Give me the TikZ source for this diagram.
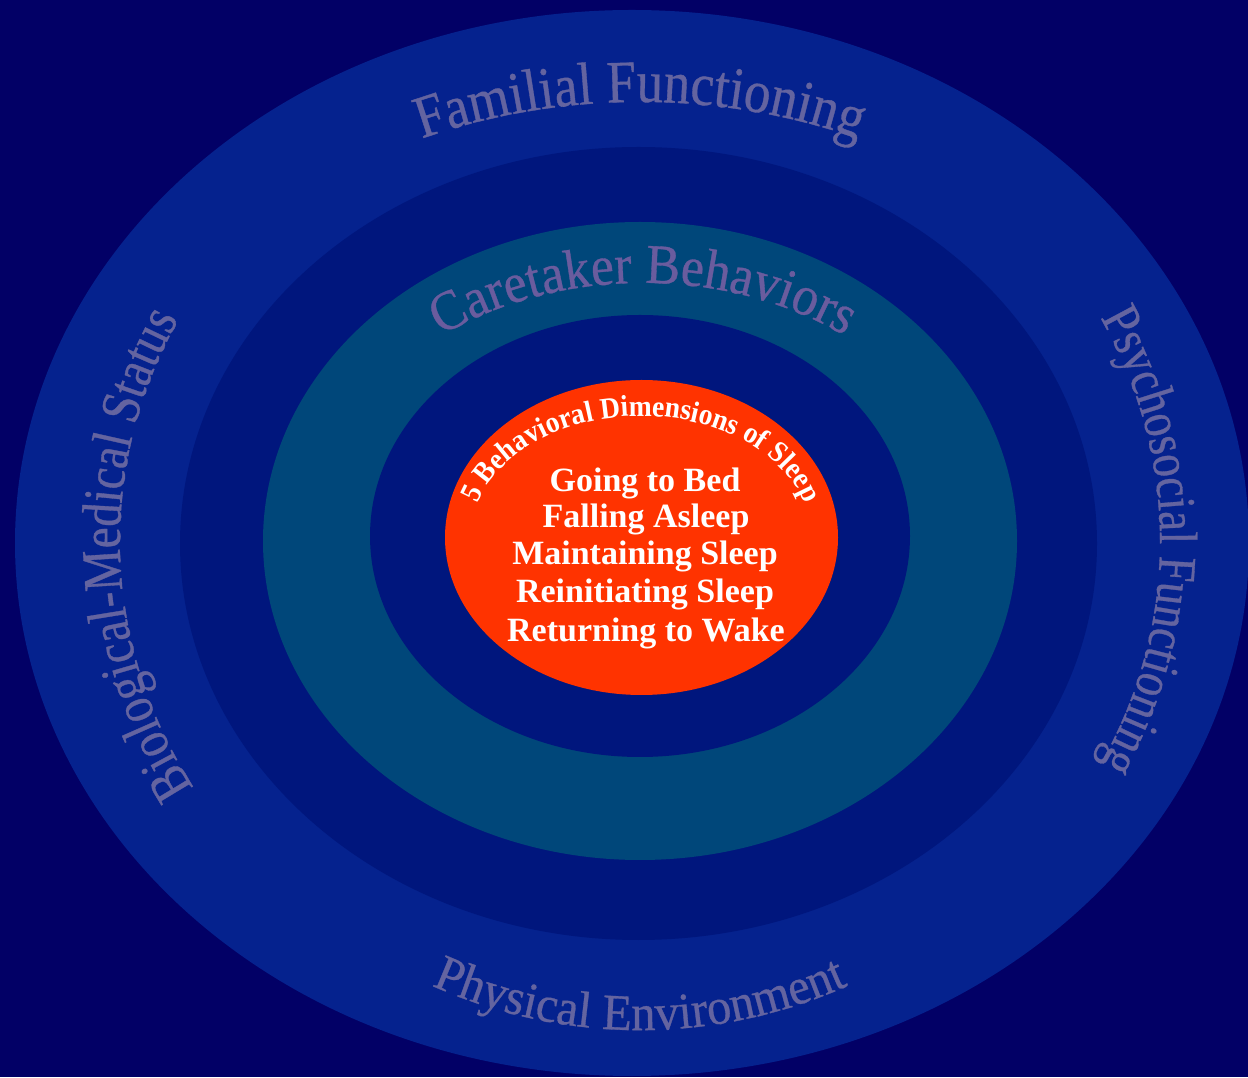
\documentclass[tikz,border=0pt]{standalone}
\usepackage{fontspec}
\setmainfont{Liberation Serif}
\newfontfamily\sidefont[FakeStretch=0.84,FakeBold=0.6]{Liberation Serif}
\newfontfamily\topfont[FakeStretch=0.88,FakeBold=0.6]{Liberation Serif}
\newfontfamily\careFont[FakeStretch=0.92,FakeBold=0.6]{Liberation Serif}
\newfontfamily\botfont[FakeStretch=0.95,FakeBold=0.6]{Liberation Serif}
\newfontfamily\coreFont[FakeStretch=0.92]{Liberation Serif}
\usetikzlibrary{decorations.text}
\definecolor{bgc}{HTML}{020066}
\definecolor{outerc}{HTML}{05228E}
\definecolor{navyc}{HTML}{00167D}
\definecolor{tealc}{HTML}{00477A}
\definecolor{redc}{HTML}{FF3300}
\definecolor{labc}{HTML}{6464A0}
\definecolor{carec}{HTML}{6A5C9E}
\begin{document}
\begin{tikzpicture}[x=1pt,y=1pt,
  centerline/.style={anchor=base, text=white, font=\bfseries\fontsize{34}{38}\selectfont, inner sep=0pt}]
\useasboundingbox (0,0) rectangle (1248,1077);
\fill[bgc] (0,0) rectangle (1248,1077);
\begin{scope}
\clip (0,0) rectangle (1248,1077);
\fill[outerc] (632,534) ellipse [x radius=617pt, y radius=533pt];
\end{scope}
\fill[navyc] (638.5,533.5) ellipse [x radius=458.5pt, y radius=396.5pt];
\fill[tealc] (640,536) ellipse [x radius=377pt, y radius=319pt];
\fill[navyc] (640,541) ellipse [x radius=270pt, y radius=221pt];
\fill[redc] (641.5,539.5) ellipse [x radius=196.5pt, y radius=157.5pt];

% outer ring labels
\path[decorate, decoration={text along path, text align=center, text color=labc,
  text={|\topfont\fontsize{60}{60}\selectfont|Familial Functioning}}]
  (640,536) ++(150:545pt and 439pt) arc[start angle=150, end angle=30, x radius=545pt, y radius=439pt];
\path[decorate, decoration={text along path, text align=center, text color=labc,
  text={|\botfont\fontsize{51}{51}\selectfont|Physical Environment}}]
  (640,536) ++(200:500pt and 489pt) arc[start angle=200, end angle=340, x radius=500pt, y radius=489pt];
\path[decorate, decoration={text along path, text align=center, text color=labc,
  text={|\sidefont\fontsize{56}{56}\selectfont|Biological-Medical Status}}]
  (640,536) ++(216.7:520pt and 480pt) arc[start angle=216.7, end angle=146.7, x radius=520pt, y radius=480pt];
\path[decorate, decoration={text along path, text align=center, text color=labc,
  text={|\sidefont\fontsize{54}{54}\selectfont|Psychosocial Functioning}}]
  (640,536) ++(35:520pt and 480pt) arc[start angle=35, end angle=-35, x radius=520pt, y radius=480pt];

% caretaker ring label
\path[decorate, decoration={text along path, text align=center, text color=carec,
  text={|\careFont\fontsize{56}{56}\selectfont|Caretaker Behaviors}}]
  (643,536) ++(165:333pt and 258pt) arc[start angle=165, end angle=15, x radius=333pt, y radius=258pt];

% core
\path[decorate, decoration={text along path, text align=center, text color=white,
  text={|\coreFont\bfseries\fontsize{30}{30}\selectfont|5 Behavioral Dimensions of Sleep}}]
  (641,540) ++(180:170pt and 121pt) arc[start angle=180, end angle=0, x radius=170pt, y radius=121pt];
\node[centerline] (l1) at (645,585) {Going to Bed};
\node[centerline] (l2) at (646,549) {Falling Asleep};
\node[centerline] (l3) at (645,512) {Maintaining Sleep};
\node[centerline] (l4) at (645,474) {Reinitiating Sleep};
\node[centerline] (l5) at (646,435) {Returning to Wake};
\end{tikzpicture}
\end{document}
